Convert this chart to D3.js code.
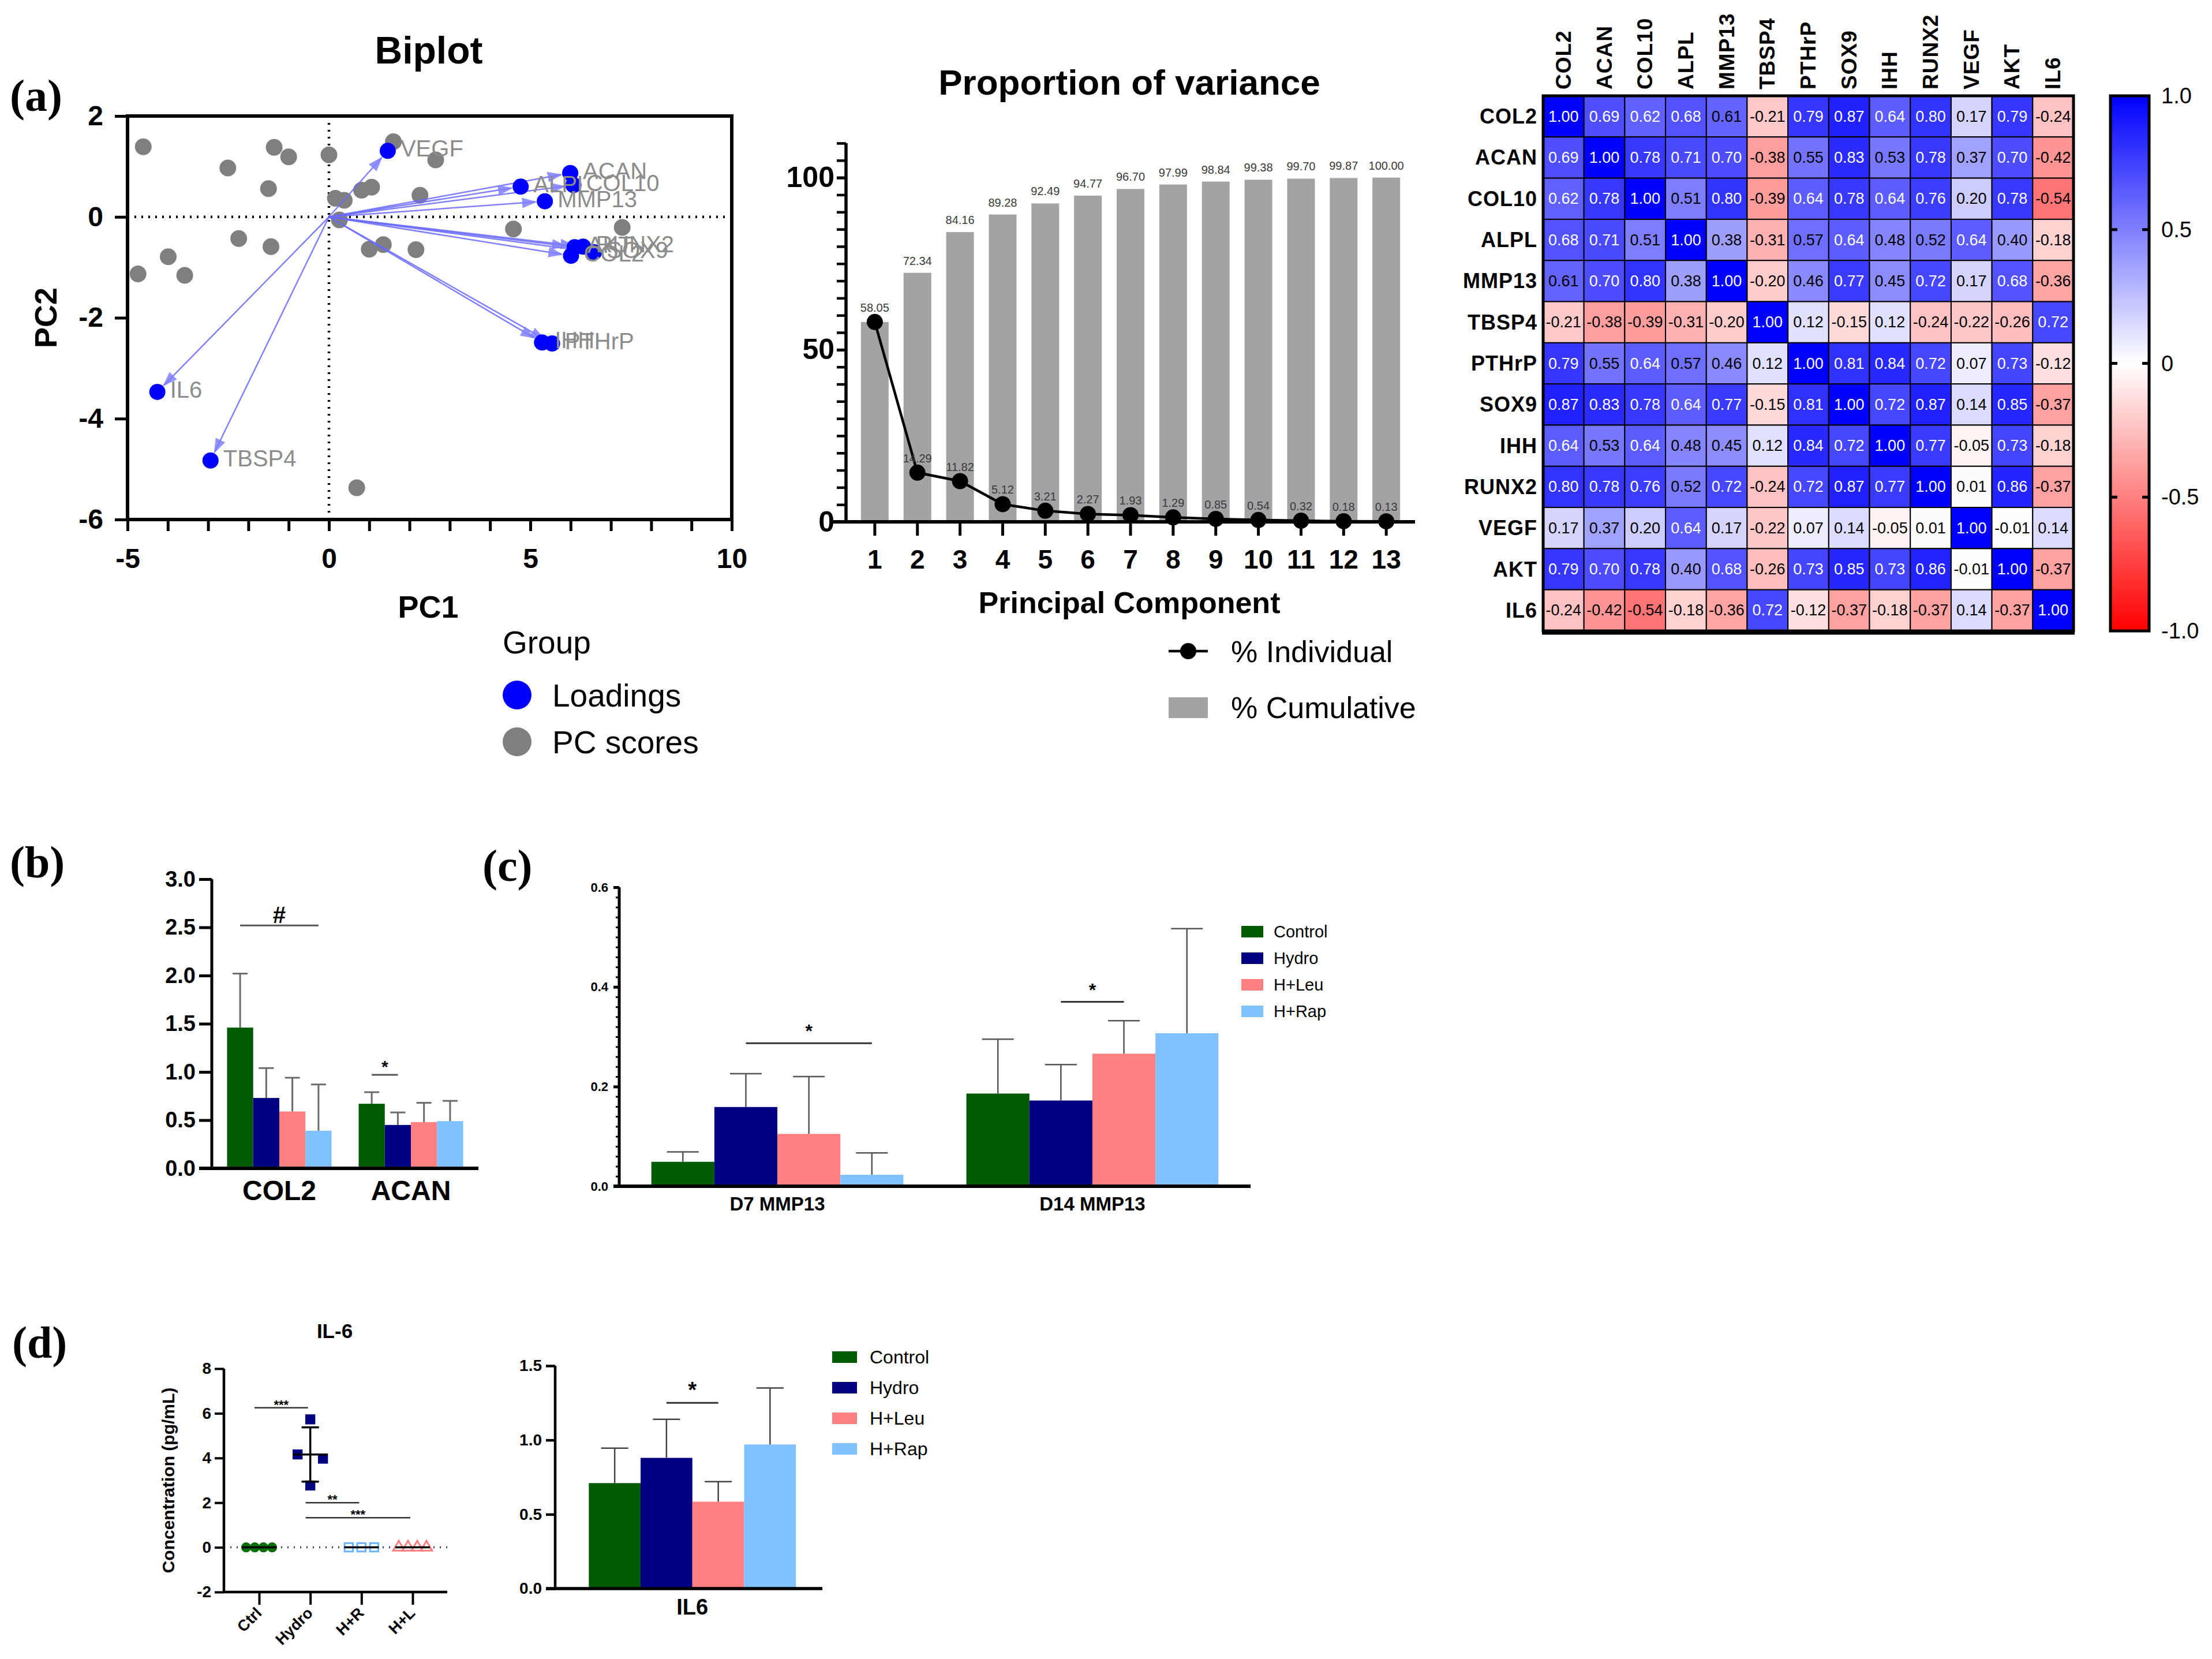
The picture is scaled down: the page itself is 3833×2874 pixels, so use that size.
<!DOCTYPE html>
<html>
<head>
<meta charset="utf-8">
<script src="https://cdn.jsdelivr.net/npm/d3@7"></script>
<style>
  body { margin: 0; background: #fff; }
  svg { display: block; }
</style>
</head>
<body>
<svg id="fig" width="3833" height="2874" viewBox="0 0 3833 2874"></svg>
<script>
// ---------- data ----------
// (a) biplot
const loadingNames = ['COL2', 'ACAN', 'COL10', 'ALPL', 'MMP13', 'TBSP4', 'PTHrP', 'SOX9', 'IHH', 'RUNX2', 'VEGF', 'AKT', 'IL6'];
const loadingPC1 = [6.01, 5.99, 6.07, 4.76, 5.36, -2.94, 5.54, 6.58, 5.29, 6.31, 1.46, 6.10, -4.26];
const loadingPC2 = [-0.77, 0.87, 0.63, 0.60, 0.31, -4.83, -2.51, -0.70, -2.49, -0.59, 1.31, -0.60, -3.47];
const scorePC1 = [-4.61, -1.36, -1.00, 0.00, -2.51, -1.50, 1.60, 2.65, 0.16, 0.38, 0.81, 1.06, 2.26, 0.26, -2.24, -1.44, -3.99, -4.74, -3.58, 1.00, 1.35, 2.16, 4.58, 7.28, 0.69];
const scorePC2 = [1.39, 1.38, 1.19, 1.23, 0.97, 0.56, 1.49, 1.13, 0.37, 0.33, 0.53, 0.59, 0.43, -0.06, -0.43, -0.59, -0.79, -1.13, -1.16, -0.64, -0.55, -0.65, -0.24, -0.21, -5.37];

// (a) proportion of variance
const pcLabels = ['1', '2', '3', '4', '5', '6', '7', '8', '9', '10', '11', '12', '13'];
const pctCumulative = [58.05, 72.34, 84.16, 89.28, 92.49, 94.77, 96.70, 97.99, 98.84, 99.38, 99.70, 99.87, 100.00];
const pctIndividual = [58.05, 14.29, 11.82, 5.12, 3.21, 2.27, 1.93, 1.29, 0.85, 0.54, 0.32, 0.18, 0.13];

// (a) correlation matrix
const genes = ['COL2', 'ACAN', 'COL10', 'ALPL', 'MMP13', 'TBSP4', 'PTHrP', 'SOX9', 'IHH', 'RUNX2', 'VEGF', 'AKT', 'IL6'];
const corr = [
  [1.00, 0.69, 0.62, 0.68, 0.61, -0.21, 0.79, 0.87, 0.64, 0.80, 0.17, 0.79, -0.24],
  [0.69, 1.00, 0.78, 0.71, 0.70, -0.38, 0.55, 0.83, 0.53, 0.78, 0.37, 0.70, -0.42],
  [0.62, 0.78, 1.00, 0.51, 0.80, -0.39, 0.64, 0.78, 0.64, 0.76, 0.20, 0.78, -0.54],
  [0.68, 0.71, 0.51, 1.00, 0.38, -0.31, 0.57, 0.64, 0.48, 0.52, 0.64, 0.40, -0.18],
  [0.61, 0.70, 0.80, 0.38, 1.00, -0.20, 0.46, 0.77, 0.45, 0.72, 0.17, 0.68, -0.36],
  [-0.21, -0.38, -0.39, -0.31, -0.20, 1.00, 0.12, -0.15, 0.12, -0.24, -0.22, -0.26, 0.72],
  [0.79, 0.55, 0.64, 0.57, 0.46, 0.12, 1.00, 0.81, 0.84, 0.72, 0.07, 0.73, -0.12],
  [0.87, 0.83, 0.78, 0.64, 0.77, -0.15, 0.81, 1.00, 0.72, 0.87, 0.14, 0.85, -0.37],
  [0.64, 0.53, 0.64, 0.48, 0.45, 0.12, 0.84, 0.72, 1.00, 0.77, -0.05, 0.73, -0.18],
  [0.80, 0.78, 0.76, 0.52, 0.72, -0.24, 0.72, 0.87, 0.77, 1.00, 0.01, 0.86, -0.37],
  [0.17, 0.37, 0.20, 0.64, 0.17, -0.22, 0.07, 0.14, -0.05, 0.01, 1.00, -0.01, 0.14],
  [0.79, 0.70, 0.78, 0.40, 0.68, -0.26, 0.73, 0.85, 0.73, 0.86, -0.01, 1.00, -0.37],
  [-0.24, -0.42, -0.54, -0.18, -0.36, 0.72, -0.12, -0.37, -0.18, -0.37, 0.14, -0.37, 1.00],
];
const colorbarTicks = [1, 0.5, 0, -0.5, -1];

// bar charts (b), (c), (d right)
const treatments = ['Control', 'Hydro', 'H+Leu', 'H+Rap'];
const treatmentColors = ['#005a00', '#000080', '#ff8080', '#80c1ff'];

const genesB = ['COL2', 'ACAN'];
const meansB = [[1.46, 0.73, 0.59, 0.39], [0.67, 0.45, 0.48, 0.49]];
const sdsB = [[0.56, 0.31, 0.35, 0.48], [0.12, 0.13, 0.20, 0.21]];
const sigB = [
  { group: 'COL2', from: 'Control', to: 'H+Rap', level: 2.52, mark: '#' },
  { group: 'ACAN', from: 'Control', to: 'Hydro', level: 0.97, mark: '*' },
];

const groupsC = ['D7 MMP13', 'D14 MMP13'];
const meansC = [[0.049, 0.159, 0.105, 0.023], [0.186, 0.172, 0.266, 0.307]];
const sdsC = [[0.020, 0.067, 0.115, 0.044], [0.109, 0.072, 0.066, 0.210]];
const sigC = [
  { group: 'D7 MMP13', from: 'Hydro', to: 'H+Rap', level: 0.287, mark: '*' },
  { group: 'D14 MMP13', from: 'Hydro', to: 'H+Leu', level: 0.37, mark: '*' },
];

const groupsD = ['IL6'];
const meansD = [[0.71, 0.88, 0.585, 0.97]];
const sdsD = [[0.235, 0.26, 0.135, 0.38]];
const sigD = [{ group: 'IL6', from: 'Hydro', to: 'H+Leu', level: 1.25, mark: '*' }];

// (d left) IL-6 concentration
const concGroups = ['Ctrl', 'Hydro', 'H+R', 'H+L'];
const concValues = [[0, 0, 0, 0], [5.73, 4.16, 3.97, 2.77], [0, 0, 0], [0, 0, 0, 0]];
const concSig = [
  { from: 'Ctrl', to: 'Hydro', level: 6.25, mark: '***' },
  { from: 'Hydro', to: 'H+R', level: 2.0, mark: '**' },
  { from: 'Hydro', to: 'H+L', level: 1.33, mark: '***' },
];

// ---------- setup ----------
const sans = "'Liberation Sans', Arial, Helvetica, sans-serif";
const serif = "'Liberation Serif', 'Times New Roman', serif";
const svg = d3.select('#fig').attr('font-family', sans);
svg.append('rect').attr('width', 3833).attr('height', 2874).attr('fill', '#fff');
const defs = svg.append('defs');

// style an axis group after d3 has drawn it
function styleAxis(sel, o) {
  sel.attr('font-family', sans)
    .attr('font-size', o.fs)
    .attr('font-weight', o.bold ? 'bold' : 'normal');
  sel.selectAll('.tick line').attr('stroke-width', o.tw);
  sel.select('.domain').attr('stroke-width', o.dw);
  return sel;
}

// panel letters
[['(a)', 17, 192], ['(b)', 17, 1520], ['(c)', 836, 1526], ['(d)', 21, 2352]].forEach(([t, x, y]) => {
  svg.append('text').attr('x', x).attr('y', y)
    .attr('font-family', serif).attr('font-weight', 'bold').attr('font-size', 78)
    .text(t);
});

// ---------- (a) biplot ----------
const bx = d3.scaleLinear().domain([-5, 10]).range([221, 1268]);
const by = d3.scaleLinear().domain([-6, 2]).range([900, 201]);
const gBi = svg.append('g');

gBi.append('text').attr('x', 743).attr('y', 110).attr('text-anchor', 'middle')
  .attr('font-size', 66).attr('font-weight', 'bold').text('Biplot');

// zero lines (dotted)
gBi.append('line').attr('x1', bx(0)).attr('x2', bx(0)).attr('y1', by(2)).attr('y2', by(-6))
  .attr('stroke', '#000').attr('stroke-width', 4.5).attr('stroke-dasharray', '3 9');
gBi.append('line').attr('x1', bx(-5)).attr('x2', bx(10)).attr('y1', by(0)).attr('y2', by(0))
  .attr('stroke', '#000').attr('stroke-width', 4.5).attr('stroke-dasharray', '3 9');

// x axis with a tick every unit, labels every 5
gBi.append('g').attr('transform', `translate(0,${by(-6)})`)
  .call(d3.axisBottom(bx).tickValues(d3.range(-5, 11)).tickSize(20).tickPadding(30)
    .tickFormat(d => (d % 5 === 0 ? String(d) : '')))
  .call(a => styleAxis(a, { fs: 48, bold: true, tw: 5, dw: 0 }))
  .call(a => a.select('.domain').remove());

gBi.append('g').attr('transform', `translate(${bx(-5)},0)`)
  .call(d3.axisLeft(by).tickValues([-6, -4, -2, 0, 2]).tickSize(22).tickPadding(20)
    .tickFormat(d => String(d)))
  .call(a => styleAxis(a, { fs: 48, bold: true, tw: 5, dw: 0 }))
  .call(a => a.select('.domain').remove());

// frame
gBi.append('rect')
  .attr('x', bx(-5)).attr('y', by(2))
  .attr('width', bx(10) - bx(-5)).attr('height', by(-6) - by(2))
  .attr('fill', 'none').attr('stroke', '#000').attr('stroke-width', 6);

gBi.append('text').attr('x', 742).attr('y', 1070).attr('text-anchor', 'middle')
  .attr('font-size', 54).attr('font-weight', 'bold').text('PC1');
gBi.append('text').attr('transform', `translate(79,${(by(2) + by(-6)) / 2}) rotate(-90)`)
  .attr('text-anchor', 'middle').attr('dominant-baseline', 'central')
  .attr('font-size', 54).attr('font-weight', 'bold').text('PC2');

// PC scores
const scores = scorePC1.map((v, i) => ({ x: v, y: scorePC2[i] }));
gBi.append('g').selectAll('circle').data(scores).enter().append('circle')
  .attr('cx', d => bx(d.x)).attr('cy', d => by(d.y)).attr('r', 14.5)
  .attr('fill', '#7f7f7f');

// loading arrows
defs.append('marker').attr('id', 'arrowHead')
  .attr('viewBox', '0 0 10 10').attr('refX', 9).attr('refY', 5)
  .attr('markerWidth', 26).attr('markerHeight', 26)
  .attr('markerUnits', 'userSpaceOnUse').attr('orient', 'auto')
  .append('path').attr('d', 'M0,1.5 L10,5 L0,8.5 Z')
  .attr('fill', '#8080ff').attr('fill-opacity', 0.85);

const loadings = loadingNames.map((n, i) => ({ name: n, x: loadingPC1[i], y: loadingPC2[i] }));
// shorten each arrow so the head stops just before its point
const arrowEnd = d => {
  const dx = bx(d.x) - bx(0);
  const dy = by(d.y) - by(0);
  const len = Math.hypot(dx, dy);
  return [bx(0) + dx * (len - 16) / len, by(0) + dy * (len - 16) / len];
};
gBi.append('g').selectAll('line').data(loadings).enter().append('line')
  .attr('x1', bx(0)).attr('y1', by(0))
  .attr('x2', d => arrowEnd(d)[0])
  .attr('y2', d => arrowEnd(d)[1])
  .attr('stroke', '#6a6aff').attr('stroke-opacity', 0.85).attr('stroke-width', 2.5)
  .attr('marker-end', 'url(#arrowHead)');

gBi.append('g').selectAll('circle').data(loadings).enter().append('circle')
  .attr('cx', d => bx(d.x)).attr('cy', d => by(d.y)).attr('r', 14)
  .attr('fill', '#0000ff');

gBi.append('g').selectAll('text').data(loadings).enter().append('text')
  .attr('x', d => bx(d.x) + 22).attr('y', d => by(d.y) - 4)
  .attr('dominant-baseline', 'central')
  .attr('font-size', 40).attr('fill', '#8c8c8c')
  .text(d => d.name);

// legend
gBi.append('text').attr('x', 871).attr('y', 1132).attr('font-size', 55).text('Group');
[['Loadings', '#0000ff', 1204], ['PC scores', '#7f7f7f', 1285]].forEach(([t, c, y]) => {
  gBi.append('circle').attr('cx', 896).attr('cy', y).attr('r', 25).attr('fill', c);
  gBi.append('text').attr('x', 957).attr('y', y + 20).attr('font-size', 55).text(t);
});

// ---------- (a) proportion of variance ----------
const px = d3.scaleBand().domain(pcLabels).range([1466, 2452]).padding(0.35);
const py = d3.scaleLinear().domain([0, 110]).range([904, 248]);
const gPv = svg.append('g');

gPv.append('text').attr('x', 1957).attr('y', 164).attr('text-anchor', 'middle')
  .attr('font-size', 62).attr('font-weight', 'bold').text('Proportion of variance');

gPv.append('g').selectAll('rect').data(pctCumulative).enter().append('rect')
  .attr('x', (d, i) => px(pcLabels[i])).attr('width', px.bandwidth())
  .attr('y', d => py(d)).attr('height', d => py(0) - py(d))
  .attr('fill', '#a3a3a6');

gPv.append('g').selectAll('text').data(pctCumulative).enter()
  .filter((d, i) => i > 0)
  .append('text')
  .attr('x', (d, i) => px(pcLabels[i + 1]) + px.bandwidth() / 2)
  .attr('y', d => py(d) - 14)
  .attr('text-anchor', 'middle').attr('font-size', 20).attr('fill', '#3a3a3a')
  .text(d => d.toFixed(2));

// axes
gPv.append('g').attr('transform', `translate(${px.range()[0]},0)`)
  .call(d3.axisLeft(py).tickValues(d3.range(0, 111, 5)).tickSize(16).tickFormat(''))
  .call(a => styleAxis(a, { fs: 10, bold: false, tw: 4.5, dw: 0 }))
  .call(a => a.select('.domain').remove());
gPv.append('g').attr('transform', `translate(${px.range()[0]},0)`)
  .call(d3.axisLeft(py).tickValues([0, 50, 100]).tickSize(16).tickSizeOuter(0).tickPadding(4)
    .tickFormat(d => String(d)))
  .call(a => styleAxis(a, { fs: 50, bold: true, tw: 5, dw: 0 }))
  .call(a => a.select('.domain').remove());
gPv.append('line').attr('x1', px.range()[0]).attr('x2', px.range()[0])
  .attr('y1', py(110)).attr('y2', py(0)).attr('stroke', '#000').attr('stroke-width', 5.5);

gPv.append('g').attr('transform', `translate(0,${py(0)})`)
  .call(d3.axisBottom(px).tickSize(24).tickSizeOuter(0).tickPadding(24))
  .call(a => styleAxis(a, { fs: 46, bold: true, tw: 5, dw: 0 }))
  .call(a => a.select('.domain').remove());
gPv.append('line').attr('x1', px.range()[0] - 26).attr('x2', px.range()[1])
  .attr('y1', py(0)).attr('y2', py(0)).attr('stroke', '#000').attr('stroke-width', 6);

// individual line
const pvLine = d3.line()
  .x((d, i) => px(pcLabels[i]) + px.bandwidth() / 2)
  .y(d => py(d));
gPv.append('path').datum(pctIndividual).attr('d', pvLine)
  .attr('fill', 'none').attr('stroke', '#000').attr('stroke-width', 4.5);
gPv.append('g').selectAll('circle').data(pctIndividual).enter().append('circle')
  .attr('cx', (d, i) => px(pcLabels[i]) + px.bandwidth() / 2)
  .attr('cy', d => py(d)).attr('r', 14).attr('fill', '#000');
gPv.append('g').selectAll('text').data(pctIndividual).enter().append('text')
  .attr('x', (d, i) => px(pcLabels[i]) + px.bandwidth() / 2)
  .attr('y', d => py(d) - 18)
  .attr('text-anchor', 'middle').attr('font-size', 20).attr('fill', '#3a3a3a')
  .text(d => d.toFixed(2));

gPv.append('text').attr('x', 1957).attr('y', 1062).attr('text-anchor', 'middle')
  .attr('font-size', 52).attr('font-weight', 'bold').text('Principal Component');

// legend
gPv.append('line').attr('x1', 2025).attr('x2', 2093).attr('y1', 1128).attr('y2', 1128)
  .attr('stroke', '#000').attr('stroke-width', 4.5);
gPv.append('circle').attr('cx', 2059).attr('cy', 1128).attr('r', 14).attr('fill', '#000');
gPv.append('text').attr('x', 2133).attr('y', 1147).attr('font-size', 52).text('% Individual');
gPv.append('rect').attr('x', 2025).attr('y', 1208).attr('width', 68).attr('height', 36).attr('fill', '#a3a3a6');
gPv.append('text').attr('x', 2133).attr('y', 1244).attr('font-size', 52).text('% Cumulative');

// ---------- (a) correlation heatmap ----------
const hx = d3.scaleBand().domain(genes).range([2674, 3593]);
const hy = d3.scaleBand().domain(genes).range([166, 1093]);
const hColor = d3.scaleLinear().domain([-1, 0, 1]).range(['#ff0000', '#ffffff', '#0000ff']);
const gHm = svg.append('g');

const cells = [];
corr.forEach((row, r) => row.forEach((v, c) => cells.push({ row: genes[r], col: genes[c], v })));

gHm.append('g').selectAll('rect').data(cells).enter().append('rect')
  .attr('x', d => hx(d.col)).attr('y', d => hy(d.row))
  .attr('width', hx.bandwidth()).attr('height', hy.bandwidth())
  .attr('fill', d => hColor(d.v))
  .attr('stroke', '#000').attr('stroke-width', 2);

gHm.append('g').selectAll('text').data(cells).enter().append('text')
  .attr('x', d => hx(d.col) + hx.bandwidth() / 2)
  .attr('y', d => hy(d.row) + hy.bandwidth() / 2)
  .attr('text-anchor', 'middle').attr('dominant-baseline', 'central')
  .attr('font-size', 27)
  .attr('fill', d => (d.v > 0.615 ? '#fff' : '#000'))
  .text(d => d.v.toFixed(2));

gHm.append('rect').attr('x', hx.range()[0]).attr('y', hy.range()[0])
  .attr('width', hx.range()[1] - hx.range()[0]).attr('height', hy.range()[1] - hy.range()[0])
  .attr('fill', 'none').attr('stroke', '#000').attr('stroke-width', 5);
gHm.append('line').attr('x1', hx.range()[0] - 2).attr('x2', hx.range()[1] + 2)
  .attr('y1', hy.range()[1] + 3).attr('y2', hy.range()[1] + 3)
  .attr('stroke', '#000').attr('stroke-width', 7);

gHm.append('g').selectAll('text').data(genes).enter().append('text')
  .attr('x', hx.range()[0] - 10).attr('y', d => hy(d) + hy.bandwidth() / 2)
  .attr('text-anchor', 'end').attr('dominant-baseline', 'central')
  .attr('font-size', 36).attr('font-weight', 'bold').attr('letter-spacing', 1)
  .text(d => d);

gHm.append('g').selectAll('text').data(genes).enter().append('text')
  .attr('transform', d => `translate(${hx(d) + hx.bandwidth() / 2},${hy.range()[0] - 11}) rotate(-90)`)
  .attr('dominant-baseline', 'central')
  .attr('font-size', 37).attr('font-weight', 'bold').attr('letter-spacing', 1)
  .text(d => d);

// colour bar
const grad = defs.append('linearGradient').attr('id', 'corrGrad')
  .attr('x1', 0).attr('y1', 0).attr('x2', 0).attr('y2', 1);
grad.append('stop').attr('offset', '0%').attr('stop-color', hColor(1));
grad.append('stop').attr('offset', '50%').attr('stop-color', hColor(0));
grad.append('stop').attr('offset', '100%').attr('stop-color', hColor(-1));

const cy = d3.scaleLinear().domain([-1, 1]).range([1093, 166]);
const cbX = 3657;
const cbW = 67;
gHm.append('rect').attr('x', cbX).attr('y', cy(1)).attr('width', cbW).attr('height', cy(-1) - cy(1))
  .attr('fill', 'url(#corrGrad)').attr('stroke', '#000').attr('stroke-width', 5);
gHm.append('g').selectAll('g').data(colorbarTicks).enter().append('g')
  .each(function (d) {
    const t = d3.select(this);
    if (Math.abs(d) < 1) {
      t.append('line').attr('x1', cbX).attr('x2', cbX + 12).attr('y1', cy(d)).attr('y2', cy(d))
        .attr('stroke', '#000').attr('stroke-width', 5);
      t.append('line').attr('x1', cbX + cbW - 12).attr('x2', cbX + cbW).attr('y1', cy(d)).attr('y2', cy(d))
        .attr('stroke', '#000').attr('stroke-width', 5);
    }
    t.append('text').attr('x', 3745).attr('y', cy(d)).attr('dominant-baseline', 'central')
      .attr('font-size', 38).text(d === 0 ? '0' : d.toFixed(1));
  });

// ---------- grouped bar panels ----------
function drawBarPanel(p) {
  const g = svg.append('g');
  const x0 = d3.scaleBand().domain(p.groups).range(p.xRange)
    .paddingInner(p.padIn).paddingOuter(p.padOut).align(p.align);
  const x1 = d3.scaleBand().domain(treatments).range([0, x0.bandwidth()]);
  const y = d3.scaleLinear().domain(p.yDomain).range(p.yRange);
  const cx = (grp, t) => x0(grp) + x1(t) + x1.bandwidth() / 2;

  const rows = [];
  p.groups.forEach((grp, gi) => treatments.forEach((t, ti) => {
    rows.push({ grp, t, m: p.means[gi][ti], sd: p.sds[gi][ti], color: treatmentColors[ti] });
  }));

  // bars
  g.append('g').selectAll('rect').data(rows).enter().append('rect')
    .attr('x', d => x0(d.grp) + x1(d.t)).attr('width', x1.bandwidth())
    .attr('y', d => y(d.m)).attr('height', d => y(0) - y(d.m))
    .attr('fill', d => d.color);

  // upper error bars
  const eb = g.append('g').attr('stroke', p.errColor).attr('stroke-width', p.errW);
  eb.selectAll('line.v').data(rows).enter().append('line').attr('class', 'v')
    .attr('x1', d => cx(d.grp, d.t)).attr('x2', d => cx(d.grp, d.t))
    .attr('y1', d => y(d.m)).attr('y2', d => y(d.m + d.sd));
  eb.selectAll('line.c').data(rows).enter().append('line').attr('class', 'c')
    .attr('x1', d => cx(d.grp, d.t) - p.cap / 2).attr('x2', d => cx(d.grp, d.t) + p.cap / 2)
    .attr('y1', d => y(d.m + d.sd)).attr('y2', d => y(d.m + d.sd));

  // y axis
  if (p.minorTicks) {
    g.append('g').attr('transform', `translate(${p.xRange[0]},0)`)
      .call(d3.axisLeft(y).tickValues(p.minorTicks).tickSize(p.minorLen).tickFormat(''))
      .call(a => styleAxis(a, { fs: 10, bold: false, tw: p.minorW, dw: 0 }))
      .call(a => a.select('.domain').remove());
  }
  g.append('g').attr('transform', `translate(${p.xRange[0]},0)`)
    .call(d3.axisLeft(y).tickValues(p.ticks).tickSize(p.tickLen).tickSizeOuter(0)
      .tickPadding(p.tickPad).tickFormat(d3.format('.1f')))
    .call(a => styleAxis(a, { fs: p.tickFont, bold: true, tw: p.axisW, dw: 0 }))
    .call(a => a.select('.domain').remove());
  g.append('line').attr('x1', p.xRange[0]).attr('x2', p.xRange[0])
    .attr('y1', y(p.yDomain[1])).attr('y2', y(0) + p.axisW / 2)
    .attr('stroke', '#000').attr('stroke-width', p.axisW);
  g.append('line').attr('x1', p.xRange[0] - p.tickLen).attr('x2', p.xRange[1])
    .attr('y1', y(0)).attr('y2', y(0))
    .attr('stroke', '#000').attr('stroke-width', p.axisW + 1);

  // group labels
  g.append('g').selectAll('text').data(p.groups).enter().append('text')
    .attr('x', d => x0(d) + x0.bandwidth() / 2).attr('y', y(0) + p.labelOff)
    .attr('text-anchor', 'middle').attr('font-size', p.labelFont).attr('font-weight', 'bold')
    .text(d => d);

  // significance bars
  const sg = g.append('g');
  sg.selectAll('line').data(p.sigs).enter().append('line')
    .attr('x1', d => cx(d.group, d.from)).attr('x2', d => cx(d.group, d.to))
    .attr('y1', d => y(d.level)).attr('y2', d => y(d.level))
    .attr('stroke', p.sigColor).attr('stroke-width', p.sigW);
  sg.selectAll('text').data(p.sigs).enter().append('text')
    .attr('x', d => (cx(d.group, d.from) + cx(d.group, d.to)) / 2)
    .attr('y', d => y(d.level) - p.sigGap)
    .attr('text-anchor', 'middle').attr('font-weight', 'bold')
    .attr('font-size', d => (d.mark === '#' ? p.hashFont : p.sigFont))
    .text(d => d.mark);

  // legend
  if (p.legend) {
    const L = p.legend;
    const lg = g.append('g').selectAll('g').data(treatments).enter().append('g')
      .attr('transform', (d, i) => `translate(${L.x},${L.y0 + i * L.dy})`);
    lg.append('rect').attr('x', 0).attr('y', -L.h / 2).attr('width', L.w).attr('height', L.h)
      .attr('fill', (d, i) => treatmentColors[i]);
    lg.append('text').attr('x', L.tx).attr('y', 0).attr('dominant-baseline', 'central')
      .attr('font-size', L.fs).text(d => d);
  }
}

// (b)
drawBarPanel({
  groups: genesB, means: meansB, sds: sdsB, sigs: sigB,
  xRange: [367, 829], padIn: 0.206, padOut: 0.116, align: 0.5,
  yDomain: [0, 3], yRange: [2024, 1523], ticks: [0, 0.5, 1, 1.5, 2, 2.5, 3],
  tickLen: 22, tickPad: 6, tickFont: 38, axisW: 5,
  labelFont: 48, labelOff: 55,
  errColor: '#6b6b6b', errW: 3, cap: 26,
  sigColor: '#555', sigW: 3, sigGap: 4, sigFont: 30, hashFont: 40,
});

// (c)
drawBarPanel({
  groups: groupsC, means: meansC, sds: sdsC, sigs: sigC,
  xRange: [1073, 2167], padIn: 0.2, padOut: 0.102, align: 0.5,
  yDomain: [0, 0.6], yRange: [2055, 1537], ticks: [0, 0.2, 0.4, 0.6],
  minorTicks: d3.range(0, 0.601, 0.02), minorLen: 6, minorW: 3,
  tickLen: 10, tickPad: 9, tickFont: 22, axisW: 5,
  labelFont: 33, labelOff: 42,
  errColor: '#555', errW: 2.5, cap: 55,
  sigColor: '#333', sigW: 3, sigGap: 10, sigFont: 32, hashFont: 32,
  legend: { x: 2151, y0: 1614, dy: 46, w: 38, h: 20, tx: 56, fs: 29 },
});

// (d) right
drawBarPanel({
  groups: groupsD, means: meansD, sds: sdsD, sigs: sigD,
  xRange: [962, 1425], padIn: 0, padOut: 0.145, align: 0.56,
  yDomain: [0, 1.5], yRange: [2752, 2366], ticks: [0, 0.5, 1, 1.5],
  tickLen: 16, tickPad: 7, tickFont: 28, axisW: 4.5,
  labelFont: 38, labelOff: 45,
  errColor: '#444', errW: 2.5, cap: 47,
  sigColor: '#333', sigW: 3, sigGap: 9, sigFont: 38, hashFont: 38,
  legend: { x: 1442, y0: 2351, dy: 53, w: 43, h: 20, tx: 65, fs: 32 },
});

// ---------- (d) left: IL-6 scatter ----------
const sx = d3.scalePoint().domain(concGroups).range([449, 715]);
const sy = d3.scaleLinear().domain([-2, 8]).range([2758, 2371]);
const gSc = svg.append('g');
const concStyle = [
  { sym: d3.symbolCircle, size: 240, fill: '#0b6e0b', stroke: 'none', gap: 15 },
  { sym: d3.symbolSquare, size: 300, fill: '#000080', stroke: 'none', gap: 44 },
  { sym: d3.symbolSquare, size: 210, fill: '#fff', stroke: '#6ab4ff', gap: 22 },
  { sym: d3.symbolTriangle, size: 170, fill: '#fff', stroke: '#ff7f7f', gap: 16 },
];

gSc.append('text').attr('x', 580).attr('y', 2318).attr('text-anchor', 'middle')
  .attr('font-size', 35).attr('font-weight', 'bold').text('IL-6');

gSc.append('line').attr('x1', 388).attr('x2', 775).attr('y1', sy(0)).attr('y2', sy(0))
  .attr('stroke', '#444').attr('stroke-width', 3.5).attr('stroke-dasharray', '2 9');

// axes
gSc.append('g').attr('transform', `translate(388,0)`)
  .call(d3.axisLeft(sy).tickValues([-2, 0, 2, 4, 6, 8]).tickSize(16).tickPadding(6)
    .tickFormat(d => String(d)))
  .call(a => styleAxis(a, { fs: 28, bold: true, tw: 4, dw: 4.5 }))
  .call(a => a.select('.domain').remove());
gSc.append('line').attr('x1', 388).attr('x2', 388).attr('y1', sy(8)).attr('y2', sy(-2) + 2)
  .attr('stroke', '#000').attr('stroke-width', 4.5);
gSc.append('g').attr('transform', `translate(0,${sy(-2)})`)
  .call(d3.axisBottom(sx).tickSize(22).tickSizeOuter(0).tickFormat(''))
  .call(a => styleAxis(a, { fs: 10, bold: false, tw: 4, dw: 0 }))
  .call(a => a.select('.domain').remove());
gSc.append('line').attr('x1', 388).attr('x2', 775).attr('y1', sy(-2)).attr('y2', sy(-2))
  .attr('stroke', '#000').attr('stroke-width', 4.5);
gSc.append('g').selectAll('text').data(concGroups).enter().append('text')
  .attr('transform', d => `translate(${sx(d) + 6},${sy(-2) + 38}) rotate(-45)`)
  .attr('text-anchor', 'end').attr('font-size', 27).attr('font-weight', 'bold')
  .text(d => d);
gSc.append('text').attr('transform', `translate(291,${(sy(8) + sy(-2)) / 2}) rotate(-90)`)
  .attr('text-anchor', 'middle').attr('dominant-baseline', 'central')
  .attr('font-size', 30).attr('font-weight', 'bold').text('Concentration (pg/mL)');

// points, spread horizontally when they overlap
concGroups.forEach((grp, gi) => {
  const st = concStyle[gi];
  const vals = concValues[gi].slice().sort((a, b) => b - a);
  const clusters = [];
  vals.forEach(v => {
    const last = clusters[clusters.length - 1];
    if (last && Math.abs(sy(last[last.length - 1]) - sy(v)) < 16) last.push(v);
    else clusters.push([v]);
  });
  const pts = [];
  clusters.forEach(cl => cl.forEach((v, i) => pts.push({ v, off: (i - (cl.length - 1) / 2) * st.gap })));

  const m = d3.mean(concValues[gi]);
  const sd = d3.deviation(concValues[gi]) || 0;
  const x = sx(grp);
  gSc.append('g').selectAll('path').data(pts).enter().append('path')
    .attr('d', d3.symbol(st.sym, st.size))
    .attr('transform', d => `translate(${x + d.off},${sy(d.v)})`)
    .attr('fill', st.fill).attr('stroke', st.stroke).attr('stroke-width', 3);

  // mean and SD
  gSc.append('line').attr('x1', x - 30).attr('x2', x + 30).attr('y1', sy(m)).attr('y2', sy(m))
    .attr('stroke', '#000').attr('stroke-width', 3.5);
  if (sd > 0) {
    gSc.append('line').attr('x1', x).attr('x2', x).attr('y1', sy(m - sd)).attr('y2', sy(m + sd))
      .attr('stroke', '#000').attr('stroke-width', 3.5);
    [m - sd, m + sd].forEach(v => {
      gSc.append('line').attr('x1', x - 15).attr('x2', x + 15).attr('y1', sy(v)).attr('y2', sy(v))
        .attr('stroke', '#000').attr('stroke-width', 3.5);
    });
  }
});

// significance
gSc.append('g').selectAll('line').data(concSig).enter().append('line')
  .attr('x1', d => sx(d.from) - 8).attr('x2', d => sx(d.to) - 4)
  .attr('y1', d => sy(d.level)).attr('y2', d => sy(d.level))
  .attr('stroke', '#333').attr('stroke-width', 2.5);
gSc.append('g').selectAll('text').data(concSig).enter().append('text')
  .attr('x', d => (sx(d.from) + sx(d.to)) / 2 - 6).attr('y', d => sy(d.level) + 2)
  .attr('text-anchor', 'middle').attr('font-size', 22).attr('font-weight', 'bold')
  .text(d => d.mark);
</script>
</body>
</html>
